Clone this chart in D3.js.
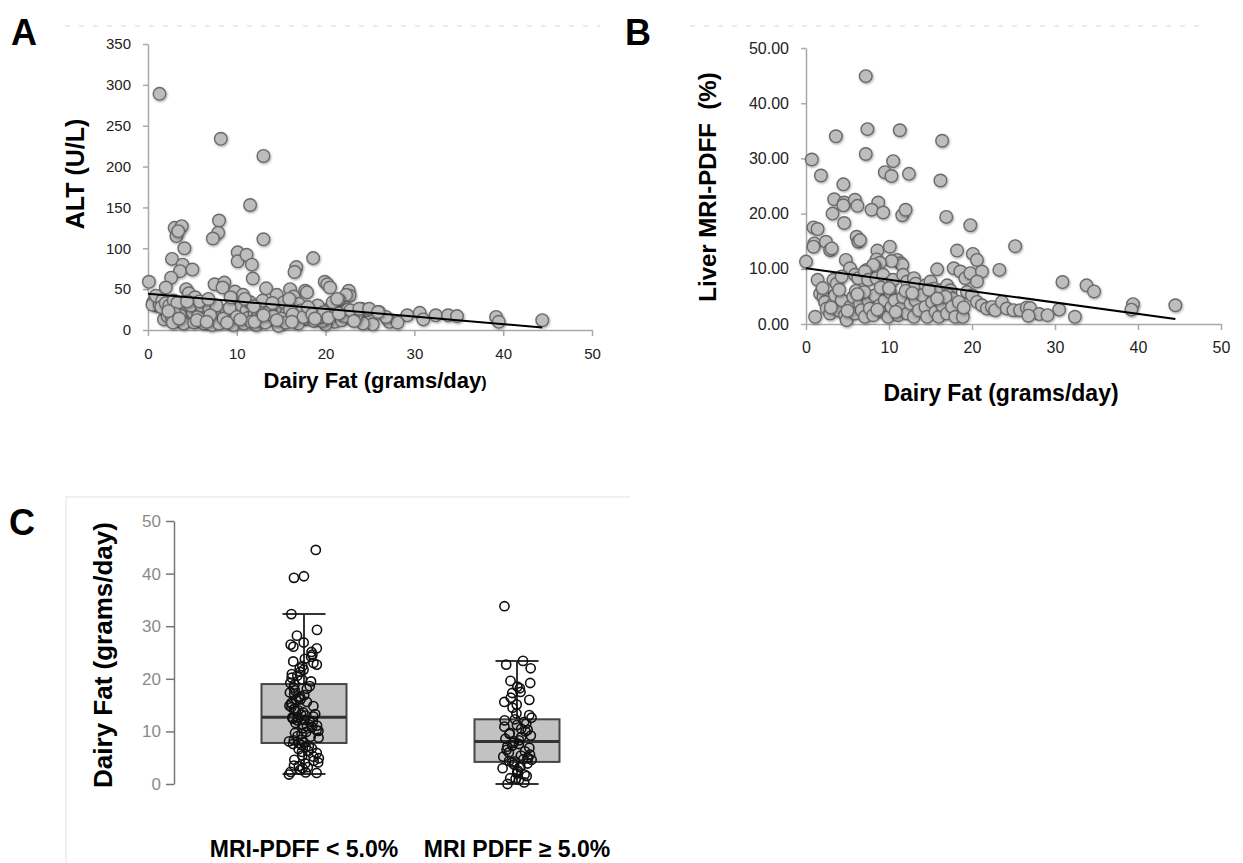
<!DOCTYPE html>
<html>
  <head>
    <meta charset="utf-8">
    <title>Dairy fat vs ALT and liver fat</title>
    <script src="https://d3js.org/d3.v7.min.js"></script>
    <style>
      body { margin: 0; background: #fff; }
      svg { display: block; font-family: "Liberation Sans", Arial, sans-serif; }
      .axis path, .axis line { stroke: #a9a9a9; stroke-width: 1.5; }
      .axis text { fill: #222; font-size: 15px; }
      .axisB text { font-size: 16px; }
      .axisC path, .axisC line { stroke: #777; stroke-width: 1.5; }
      .axisC text { fill: #8a8a8a; font-size: 17px; font-family: "Liberation Sans Narrow", "Arial Narrow", "Liberation Sans", sans-serif; }
      .title { font-weight: bold; fill: #000; white-space: pre; }
      .letter { font-weight: bold; font-size: 36px; fill: #000; }
      .dot { fill: #bdbdbd; stroke: #6b6b6b; stroke-width: 1.4; }
      .trend { stroke: #000; stroke-width: 2; fill: none; }
      .box { fill: #c2c2c2; stroke: #454545; stroke-width: 2; }
      .whisker { stroke: #333; stroke-width: 2; }
      .median { stroke: #333; stroke-width: 3; }
      .open { fill: none; stroke: #111; stroke-width: 1.6; }
    </style>
  </head>
  <body>
    <svg id="chart" width="1243" height="863"></svg>
    <script>
      // ---- data ----
      fatTicks = [0, 10, 20, 30, 40, 50];
      altTicks = [0, 50, 100, 150, 200, 250, 300, 350];
      pdffTicks = [0, 10, 20, 30, 40, 50];
      boxTicks = [0, 10, 20, 30, 40, 50];

      // panel A: [dairy fat g/day, ALT U/L]
      altPoints = [
        [0.1,59],[1.3,289],[8.2,234],[13.0,213],[11.5,153],
        [3.0,125],[3.2,115],[3.8,127],[3.4,121],[4.1,100],[2.7,87],[3.9,80],[3.6,72],[5.0,74],[2.6,64],[2.0,52],
        [8.0,134],[7.9,119],[7.3,112],[7.5,56],[8.6,58],[8.4,52],
        [10.1,95],[10.1,84],[11.1,92],[11.7,80],[11.8,63],[13.0,111],[13.3,51],[9.8,47],
        [16.7,77],[16.5,71],[18.6,88],[16.0,50],[16.4,41],[17.7,48],[17.9,46],[19.9,59],[20.2,56],[20.5,52],[14.5,43],
        [22.6,48],[22.7,42],[22.3,43],[4.3,50],[4.6,45],[5.3,40],
        [29.2,18],[30.6,21],[31.0,13],[32.4,18],[33.8,18],[34.8,17],[39.2,16],[39.5,10],[44.4,12],
        [26.0,22],[25.3,7],[24.0,26],[24.6,24],[24.2,8],[27.0,13],[27.2,10],[28.1,9],[26.8,16],
        [21.0,33],[21.5,37],[19.2,28],[20.6,28],[21.0,10],[20.0,7],[21.8,12],[22.5,25],[23.0,13],[23.5,18],
        [0.6,34],[1.0,30],[0.5,31],[1.3,31],[0.9,42],[1.6,36],
        [1.8,13],[2.2,17],[2.7,15],[3.1,11],[3.4,24],[3.9,28],[4.3,11],[4.6,15],[5.0,22],[5.4,28],[5.8,24],
        [6.1,13],[6.5,34],[6.7,20],[7.1,13],[7.4,22],[7.9,11],[8.2,17],[8.8,24],[9.0,11],[9.4,15],[9.9,36],
        [10.1,20],[10.3,11],[10.5,30],[10.7,43],[11.1,24],[11.3,15],[11.5,34],[12.0,20],[12.4,17],[12.7,28],
        [13.5,20],[13.9,13],[14.3,26],[14.9,9],[15.3,34],[15.6,20],[16.6,13],[17.0,32],[17.2,24],[17.9,13],
        [18.3,22],[18.7,11],[19.1,30],[19.6,11],[20.8,34],[21.3,38],[22.1,17],[22.8,24],[23.2,11],[23.8,26],
        [24.9,26],[25.9,22],
        [1.5,28],[2.0,33],[2.4,30],[2.9,36],[3.3,33],[3.6,18],[4.0,8],[4.8,30],[5.2,9],[5.6,16],[6.0,30],
        [6.3,8],[6.9,27],[7.2,6],[7.7,30],[8.0,8],[8.5,14],[9.2,27],[9.6,6],[10.0,16],[10.8,8],[11.6,10],
        [12.2,6],[12.6,13],[13.2,9],[13.7,24],[14.1,17],[14.7,5],[15.0,14],[15.5,9],[16.0,25],[16.3,19],
        [16.9,8],[17.5,16],[18.0,28],[18.5,19],[19.4,16],[19.8,22],[20.3,15],[5.8,35],[6.8,38],[7.0,18],
        [9.3,40],[10.9,38],[12.9,36],[11.9,29],[14.0,33],[15.9,38],[4.4,35],[3.0,20],[2.3,23],
        [2.8,9],[3.5,14],[5.5,12],[6.6,10],[8.9,9],[10.4,13],[12.0,10],[13.0,18],[14.5,12],[16.2,10],[18.8,14],[21.5,20]
      ];
      altTrend = [[0, 44.5], [44.4, 3]];

      // panel B: [dairy fat g/day, liver MRI-PDFF %]
      pdffPoints = [
        [7.2,44.9],[7.4,35.3],[11.3,35.1],[3.6,34.0],[16.4,33.2],[0.7,29.8],[7.2,30.8],[10.5,29.5],
        [9.5,27.5],[10.3,26.8],[12.4,27.2],[1.8,26.9],[16.2,26.0],[4.5,25.3],
        [3.4,22.6],[4.6,22.0],[4.5,21.5],[5.9,22.5],[6.2,21.4],[8.7,22.0],[7.9,20.7],[9.3,20.2],[11.6,19.7],
        [12.0,20.7],[3.2,20.0],[4.6,18.3],[16.9,19.4],[19.8,17.9],[0.9,17.5],[1.4,17.2],
        [0,11.3],[1.0,14.6],[0.9,14.0],[2.4,14.9],[2.9,13.4],[3.1,13.7],[6.1,15.8],[6.3,14.9],[6.5,15.2],
        [4.8,11.6],[1.4,8.0],[8.6,13.3],[10.1,14.0],[11.0,11.6],[11.4,11.0],[11.6,10.7],[10.3,11.4],
        [8.5,11.7],[8.9,11.1],[8.3,10.4],[5.3,10.1],[7.3,9.8],[8.1,10.7],
        [15.8,9.9],[17.8,10.1],[18.2,13.3],[18.6,9.5],[19.2,8.3],[19.8,9.2],[20.1,12.7],[20.6,11.6],
        [21.2,9.5],[20.6,7.7],[23.3,9.8],[25.2,14.1],
        [3.3,8.0],[3.7,7.3],[4.3,8.6],[5.9,8.9],[6.3,8.3],[7.1,9.5],[7.5,8.0],[8.5,8.3],[9.3,8.9],[9.9,7.3],
        [10.5,8.0],[11.7,8.9],[12.2,7.7],[13.0,8.3],[13.2,7.3],[14.4,7.0],[15.0,7.7],[15.4,6.4],[16.2,6.1],
        [17.0,7.0],[17.4,6.1],[17.2,5.2],[17.6,4.6],[19.4,5.8],[20.0,5.2],[20.6,4.0],[21.2,3.4],[21.8,2.8],
        [22.4,3.1],[22.8,2.5],[23.6,4.0],[24.2,2.8],[25.0,2.5],[25.8,2.5],[26.6,3.0],
        [1.1,1.3],[1.7,5.5],[2.1,4.9],[2.3,4.0],[2.5,2.8],[2.9,1.9],[3.3,3.7],[3.5,5.2],[3.9,2.5],[4.3,4.3],
        [4.7,1.6],[4.9,0.7],[5.3,3.1],[5.7,4.9],[5.9,1.9],[6.5,3.7],[6.7,2.5],[7.1,1.3],[7.5,4.3],[7.7,2.8],
        [8.1,1.6],[8.3,5.2],[8.9,3.4],[9.3,2.2],[9.5,4.3],[9.9,1.3],[10.1,5.8],[10.3,3.1],[10.7,4.3],[11.1,1.6],
        [11.4,2.8],[11.7,4.9],[12.2,1.9],[12.6,3.7],[13.0,1.3],[13.2,4.3],[13.6,2.5],[14.0,5.2],[14.4,3.1],
        [14.6,1.3],[15.2,4.0],[15.6,2.2],[16.0,1.3],[16.4,3.4],[16.8,4.9],[17.0,1.9],[17.6,3.1],[18.0,1.3],
        [18.4,4.0],[18.9,1.3],
        [2.0,6.5],[4.0,6.2],[6.0,6.0],[9.0,6.6],[12.0,6.0],[14.8,6.2],[10.0,6.5],[7.0,5.8],
        [3.0,3.0],[5.0,2.4],[6.2,5.4],[8.6,2.6],[10.8,2.2],[12.8,5.6],[15.8,4.6],[19.0,3.0],
        [30.9,7.6],[33.8,7.0],[34.7,5.9],[30.5,2.6],[32.4,1.3],[39.4,3.6],[39.2,2.6],[44.5,3.4],
        [27.0,2.9],[28.1,1.8],[29.1,1.6],[26.8,1.5]
      ];
      pdffTrend = [[0, 10.1], [44.5, 0.9]];

      // panel C: dairy fat (g/day) by liver fat group
      groups = ["MRI-PDFF < 5.0%", "MRI PDFF \u2265 5.0%"];
      lowPdffFat = [
        1.8, 2.1, 2.3, 2.2, 2.7, 3.0, 3.2, 3.5, 3.4, 3.9, 4.1, 4.4, 4.6, 4.9, 5.2, 5.4, 5.9, 6.1, 6.3, 6.6,
        6.8, 7.0, 7.2, 7.4, 7.6, 7.8, 7.9, 8.1, 8.3, 8.4, 8.8, 9.0, 9.1, 9.5, 9.7, 9.9, 10.1, 10.2, 10.6,
        10.8, 11.0, 11.1, 11.3, 11.6, 11.8, 11.9, 12.1, 12.2, 12.4, 12.5, 12.6, 12.7, 12.8, 13.0, 13.2,
        13.3, 13.6, 13.8, 14.0, 14.2, 14.3, 14.6, 14.8, 14.9, 15.2, 15.4, 15.6, 15.9, 16.1, 16.4, 16.6,
        16.9, 17.1, 17.4, 17.8, 18.1, 18.3, 18.6, 18.9, 19.2, 19.5, 19.9, 20.2, 20.6, 20.9, 21.3, 21.7,
        22.0, 22.4, 22.7, 23.0, 23.3, 23.8, 24.2, 24.6, 25.1, 25.8, 26.1, 26.5, 26.9, 28.2, 29.3, 32.3,
        39.2, 39.5, 44.5
      ];
      highPdffFat = [
        0.0, 0.3, 0.8, 1.0, 1.1, 1.5, 1.8, 2.0, 2.3, 2.6, 3.0, 3.2, 3.3, 3.7, 3.9, 4.1, 4.3, 4.4, 4.6,
        4.7, 4.9, 5.0, 5.2, 5.4, 5.6, 6.0, 6.2, 6.5, 6.9, 7.1, 7.3, 7.6, 7.8, 8.1, 8.3, 8.6, 8.9, 9.2,
        9.5, 9.7, 10.0, 10.3, 10.5, 10.9, 11.2, 11.5, 11.8, 12.1, 12.3, 12.6, 13.1, 13.4, 14.5, 15.1,
        15.6, 16.0, 16.4, 17.3, 17.5, 18.2, 18.5, 19.6, 19.2, 22.0, 22.7, 23.4, 33.8
      ];
      boxLow = [1.9, 0.0];
      boxQ1 = [7.8, 4.2];
      boxMedian = [12.7, 8.1];
      boxQ3 = [19.0, 12.3];
      boxHigh = [32.3, 23.4];

      // ---- drawing ----
      svg = d3.select("#chart");
      defs = svg.append("defs");
      defs.append("filter").attr("id", "shadow")
        .attr("x", "-50%").attr("y", "-50%").attr("width", "200%").attr("height", "200%")
        .append("feDropShadow")
          .attr("dx", 0.8).attr("dy", 1.2).attr("stdDeviation", 0.9)
          .attr("flood-color", "#000").attr("flood-opacity", 0.35);

      function scatterPanel(opt) {
        var x = d3.scaleLinear().domain([0, 50]).range([opt.left, opt.right]);
        var y = d3.scaleLinear().domain(opt.yDomain).range([opt.bottom, opt.top]);
        var g = svg.append("g");
        // faint dotted frame line across the top
        g.append("line")
          .attr("x1", opt.frame[0]).attr("x2", opt.frame[1])
          .attr("y1", 26).attr("y2", 26)
          .attr("stroke", "#ebebeb").attr("stroke-width", 2)
          .attr("stroke-dasharray", "5,9");
        g.append("g")
          .attr("class", "axis " + opt.cls)
          .attr("transform", "translate(0," + opt.bottom + ")")
          .call(d3.axisBottom(x).tickValues(fatTicks).tickSize(6).tickPadding(12).tickSizeOuter(0));
        g.append("g")
          .attr("class", "axis " + opt.cls)
          .attr("transform", "translate(" + opt.left + ",0)")
          .call(d3.axisLeft(y).tickValues(opt.ticks).tickFormat(opt.format).tickSize(5).tickPadding(12).tickSizeOuter(0));
        g.append("g")
          .selectAll(".dot")
            .data(opt.points)
          .enter().append("circle")
            .attr("class", "dot")
            .attr("filter", "url(#shadow)")
            .attr("cx", function(d) { return x(d[0]); })
            .attr("cy", function(d) { return y(d[1]); })
            .attr("r", 6.3);
        g.append("path")
          .datum(opt.trend)
          .attr("class", "trend")
          .attr("d", d3.line().x(function(d) { return x(d[0]); }).y(function(d) { return y(d[1]); }));
      }

      scatterPanel({
        points: altPoints, trend: altTrend, ticks: altTicks, yDomain: [0, 350],
        format: d3.format("d"), cls: "axisA",
        left: 148, right: 592, top: 44, bottom: 330, frame: [65, 600]
      });
      scatterPanel({
        points: pdffPoints, trend: pdffTrend, ticks: pdffTicks, yDomain: [0, 50],
        format: d3.format(".2f"), cls: "axisB",
        left: 806, right: 1221, top: 48, bottom: 324, frame: [690, 1208]
      });

      // panel letters
      svg.append("text").attr("class", "letter").attr("x", 11).attr("y", 45).text("A");
      svg.append("text").attr("class", "letter").attr("x", 625).attr("y", 45).text("B");
      svg.append("text").attr("class", "letter").attr("x", 9).attr("y", 535).text("C");

      // axis titles A and B
      svg.append("text").attr("class", "title")
        .attr("transform", "translate(84,174) rotate(-90)")
        .attr("text-anchor", "middle").style("font-size", "25px")
        .text("ALT (U/L)");
      titleA = svg.append("text").attr("class", "title")
        .attr("x", 375).attr("y", 388)
        .attr("text-anchor", "middle").style("font-size", "22px");
      titleA.append("tspan").text("Dairy Fat (grams/day");
      titleA.append("tspan").style("font-size", "16px").text(")");
      svg.append("text").attr("class", "title")
        .attr("transform", "translate(716,187) rotate(-90)")
        .attr("text-anchor", "middle").style("font-size", "24px")
        .text("Liver MRI-PDFF  (%)");
      svg.append("text").attr("class", "title")
        .attr("x", 1001).attr("y", 401)
        .attr("text-anchor", "middle").style("font-size", "23px")
        .text("Dairy Fat (grams/day)");

      // ---- panel C ----
      gc = svg.append("g");
      gc.append("path")
        .attr("d", "M66,863V497H630")
        .attr("fill", "none").attr("stroke", "#ececec").attr("stroke-width", 1.5);
      yc = d3.scaleLinear().domain([0, 50]).range([784, 521]);
      xc = d3.scalePoint().domain(groups).range([304, 517]);
      gc.append("g")
        .attr("class", "axisC")
        .attr("transform", "translate(174,0)")
        .call(d3.axisLeft(yc).tickValues(boxTicks).tickSize(8).tickPadding(5).tickSizeOuter(0));

      boxes = groups.map(function(g, i) {
        return { group: g, lo: boxLow[i], q1: boxQ1[i], med: boxMedian[i], q3: boxQ3[i], hi: boxHigh[i] };
      });
      bw = 85; cw = 43;
      bg = gc.selectAll(".boxGroup")
          .data(boxes)
        .enter().append("g")
          .attr("class", "boxGroup");
      bg.append("line").attr("class", "whisker")
        .attr("x1", function(d) { return xc(d.group); }).attr("x2", function(d) { return xc(d.group); })
        .attr("y1", function(d) { return yc(d.hi); }).attr("y2", function(d) { return yc(d.lo); });
      bg.append("rect").attr("class", "box")
        .attr("x", function(d) { return xc(d.group) - bw / 2; })
        .attr("width", bw)
        .attr("y", function(d) { return yc(d.q3); })
        .attr("height", function(d) { return yc(d.q1) - yc(d.q3); });
      bg.append("line").attr("class", "median")
        .attr("x1", function(d) { return xc(d.group) - bw / 2; }).attr("x2", function(d) { return xc(d.group) + bw / 2; })
        .attr("y1", function(d) { return yc(d.med); }).attr("y2", function(d) { return yc(d.med); });
      ["hi", "lo"].forEach(function(k) {
        bg.append("line").attr("class", "whisker")
          .attr("x1", function(d) { return xc(d.group) - cw / 2; }).attr("x2", function(d) { return xc(d.group) + cw / 2; })
          .attr("y1", function(d) { return yc(d[k]); }).attr("y2", function(d) { return yc(d[k]); });
      });

      // sideways spread of the subjects: a fixed hash of the index, so the layout is the same every run
      function spread(i, gi) {
        var h = Math.sin(i * 12.9898 + gi * 78.233) * 43758.5453;
        return (h - Math.floor(h)) - 0.5;
      }
      [lowPdffFat, highPdffFat].forEach(function(vals, gi) {
        gc.append("g")
          .selectAll(".open")
            .data(vals)
          .enter().append("circle")
            .attr("class", "open")
            .attr("cx", function(d, i) { return xc(groups[gi]) + spread(i, gi) * 30; })
            .attr("cy", function(d) { return yc(d); })
            .attr("r", 4.6);
      });

      svg.append("text").attr("class", "title")
        .attr("transform", "translate(112,655) rotate(-90)")
        .attr("text-anchor", "middle").style("font-size", "26px")
        .text("Dairy Fat (grams/day)");
      gc.selectAll(".groupLabel")
          .data(groups)
        .enter().append("text")
          .attr("class", "title groupLabel")
          .attr("x", function(d) { return xc(d); })
          .attr("y", 857)
          .attr("text-anchor", "middle")
          .style("font-size", "23px")
          .text(function(d) { return d; });
    </script>
  </body>
</html>
